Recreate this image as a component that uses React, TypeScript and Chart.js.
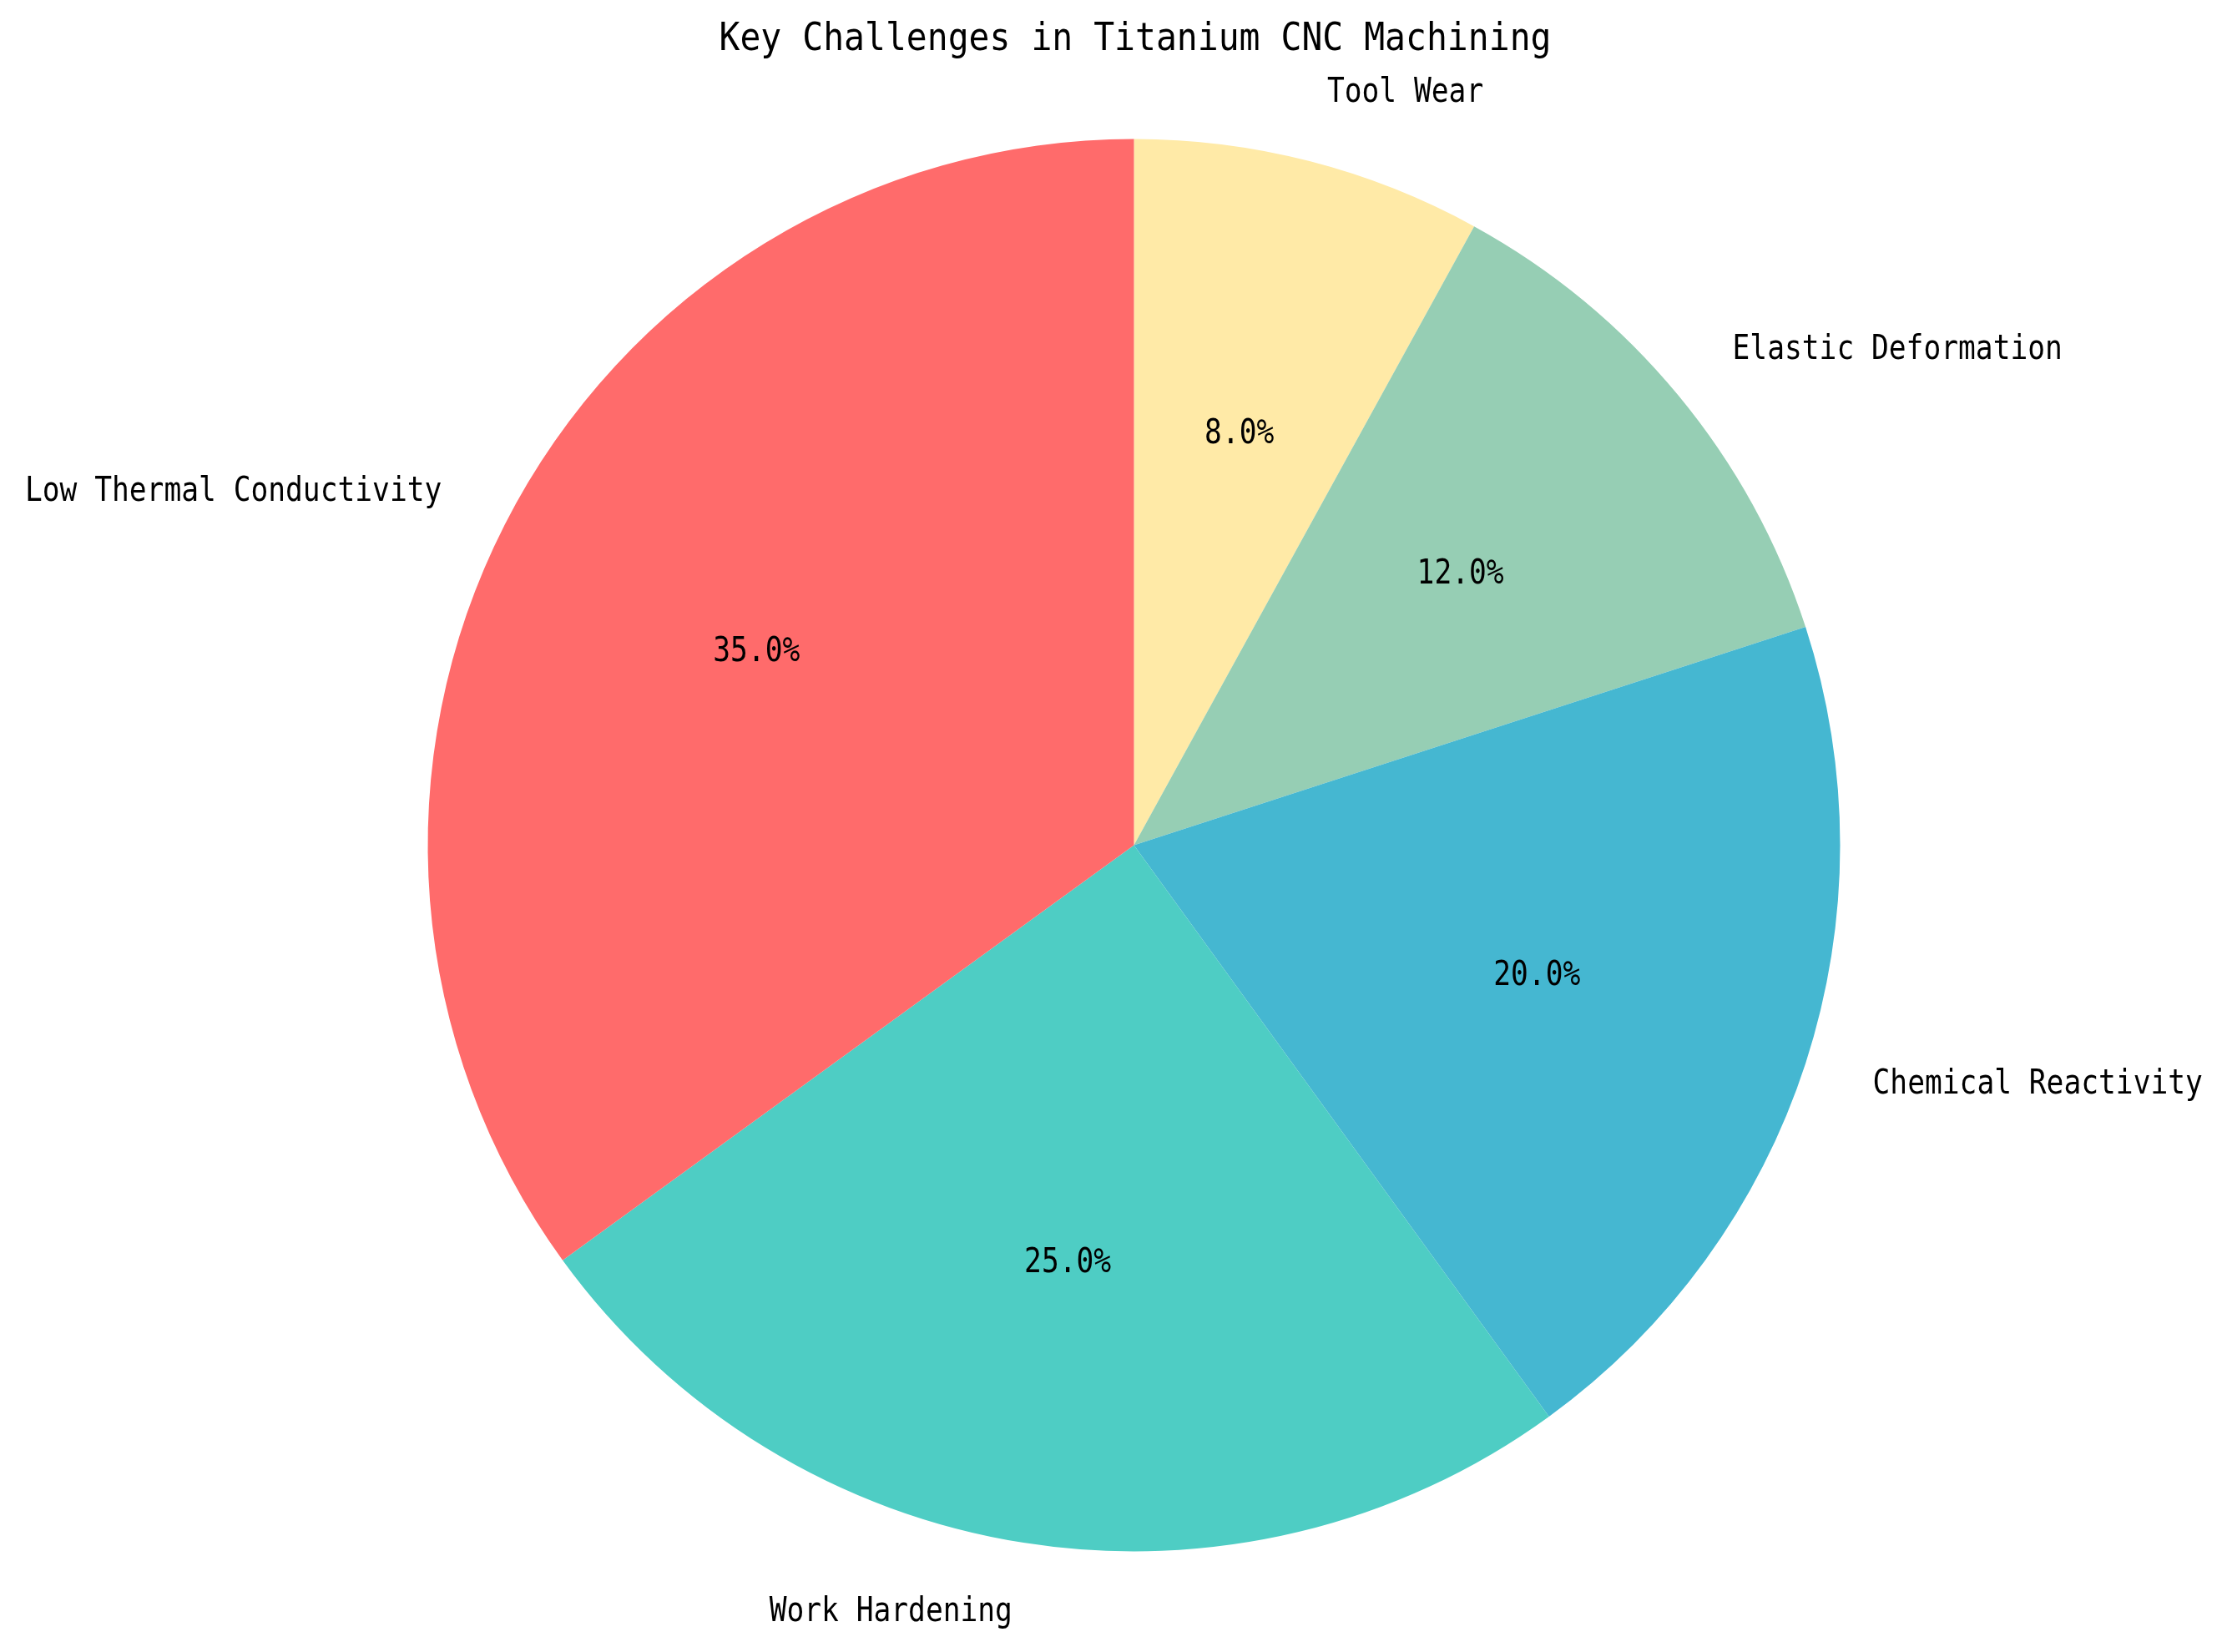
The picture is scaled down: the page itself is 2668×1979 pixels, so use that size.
import React, { useEffect, useRef } from "react";
import { Chart, registerables } from "chart.js";

Chart.register(...registerables);

// Reference order (matplotlib, counter-clockwise from top)
const categories = [
  "Low Thermal Conductivity",
  "Work Hardening",
  "Chemical Reactivity",
  "Elastic Deformation",
  "Tool Wear",
];
const values = [35, 25, 20, 12, 8];
const colors = ["#FF6B6B", "#4ECDC4", "#45B7D1", "#96CEB4", "#FFEAA7"];
const title = "Key Challenges in Titanium CNC Machining";

const W = 2668;
const H = 1979;
const FONT = '"DejaVu Sans Mono", "Liberation Mono", monospace';

function drawCondensed(
  ctx: CanvasRenderingContext2D,
  text: string,
  x: number,
  y: number,
  align: CanvasTextAlign,
  size: number,
  sx: number
) {
  ctx.save();
  ctx.translate(x, y);
  ctx.scale(sx, 1);
  ctx.font = `${size}px ${FONT}`;
  ctx.fillStyle = "#000";
  ctx.textAlign = align;
  ctx.textBaseline = "middle";
  ctx.fillText(text, 0, 0);
  ctx.restore();
}

const labelPlugin = {
  id: "mplLabels",
  afterDraw(chart: any) {
    const ctx = chart.ctx as CanvasRenderingContext2D;
    const meta = chart.getDatasetMeta(0);
    const data = chart.data.datasets[0].data as number[];
    const labels = chart.data.labels as string[];
    const total = data.reduce((a, b) => a + b, 0);
    meta.data.forEach((arc: any, i: number) => {
      const p = arc.getProps(["x", "y", "startAngle", "endAngle", "outerRadius"], true);
      const mid = (p.startAngle + p.endAngle) / 2;
      const c = Math.cos(mid);
      const s = Math.sin(mid);
      const R = p.outerRadius;
      const lx = p.x + c * R * 1.1;
      const ly = p.y + s * R * 1.1;
      drawCondensed(ctx, labels[i], lx, ly, c > 0 ? "left" : "right", 40, 0.864);
      const px = p.x + c * R * 0.6;
      const py = p.y + s * R * 0.6;
      const pct = ((data[i] / total) * 100).toFixed(1) + "%";
      drawCondensed(ctx, pct, px, py, "center", 40, 0.864);
    });
    drawCondensed(ctx, title, chart.width / 2 + 26, 48, "center", 46, 0.9);
  },
};

export default function App() {
  const ref = useRef<HTMLCanvasElement | null>(null);
  useEffect(() => {
    document.body.style.margin = "0";
    const canvas = ref.current!;
    // Chart.js draws clockwise, so reverse to mimic matplotlib's counter-clockwise order
    const cats = [...categories].reverse();
    const vals = [...values].reverse();
    const cols = [...colors].reverse();
    const chart = new Chart(canvas, {
      type: "pie",
      data: {
        labels: cats,
        datasets: [
          {
            data: vals,
            backgroundColor: cols,
            borderWidth: 0,
          },
        ],
      },
      options: {
        animation: false,
        responsive: false,
        maintainAspectRatio: false,
        rotation: 0,
        layout: {
          padding: { top: 166.5, bottom: 120.5, left: 512.5, right: 463.5 },
        },
        plugins: {
          legend: { display: false },
          title: { display: false },
          tooltip: { enabled: false },
        },
      },
      plugins: [labelPlugin],
    });
    return () => chart.destroy();
  }, []);
  return (
    <div style={{ position: "absolute", left: 0, top: 0, width: W, height: H, background: "#fff" }}>
      <canvas ref={ref} width={W} height={H} style={{ width: W, height: H, display: "block" }} />
    </div>
  );
}
